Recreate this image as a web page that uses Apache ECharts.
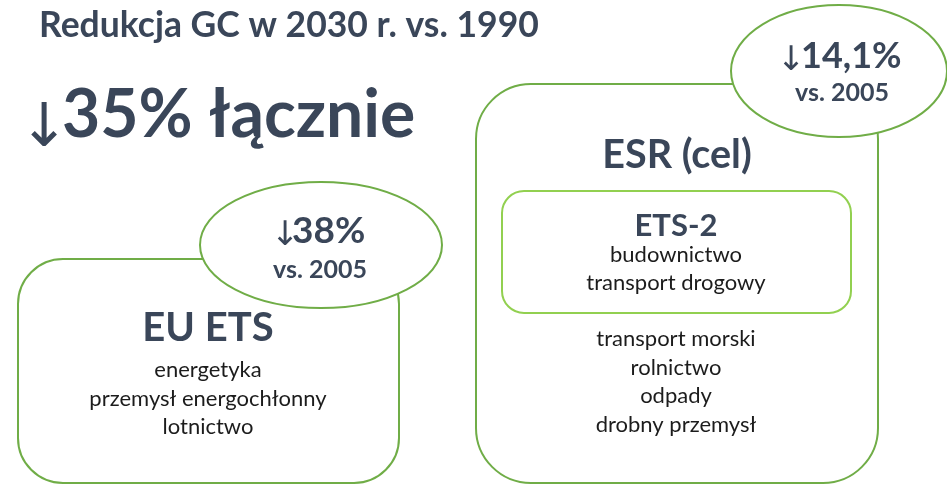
<!DOCTYPE html>
<html>
<head>
<meta charset="utf-8">
<script src="https://cdn.jsdelivr.net/npm/echarts@6/dist/echarts.min.js"></script>
<style>
  html, body { margin: 0; padding: 0; background: #fff; }
  #main { width: 947px; height: 484px; }
</style>
</head>
<body>
<div id="main"></div>
<script>
  // dane
  var titleText = 'Redukcja GC w 2030 r. vs. 1990'
  var totalLabel = ['35%', 'łącznie']
  var schemes = ['EU ETS', 'ESR (cel)', 'ETS-2']
  var cuts = ['38%', '14,1%']
  var baseYear = 'vs. 2005'
  var etsSectors = ['energetyka', 'przemysł energochłonny', 'lotnictwo']
  var ets2Sectors = ['budownictwo', 'transport drogowy']
  var esrSectors = ['transport morski', 'rolnictwo', 'odpady', 'drobny przemysł']

  var DARK = '#3a4659'
  var BODY = '#1c1c1c'
  var GREEN = '#70ad47'
  var LIGHT_GREEN = '#92d050'
  var FONT = 'Lato, "Noto Sans", sans-serif'
  var ARROW_FONT = '"DejaVu Sans", sans-serif'

  function txt(text, x, y, size, weight, color, align, family) {
    return {
      type: 'text',
      z: 10,
      style: {
        text: text,
        x: x,
        y: y,
        font: (weight || 'normal') + ' ' + size + 'px ' + (family || FONT),
        fill: color || BODY,
        textAlign: align || 'center',
        textVerticalAlign: 'middle'
      }
    }
  }

  // strzalka + wartosc redukcji
  function cutLabel(value, arrowX, numX, y, size) {
    return [
      txt('↓', arrowX, y + 5, 34, 'normal', DARK, 'center', ARROW_FONT),
      txt(value, numX, y, size, 'bold', DARK, 'left')
    ]
  }

  function lines(list, x, y0, step) {
    return list.map(function (t, i) {
      return txt(t, x, y0 + i * step, 22, 'normal', BODY)
    })
  }

  var elements = [
    txt(titleText, 39, 26, 35.5, 'bold', DARK, 'left'),
    txt('↓', 44, 130, 60, 'normal', DARK, 'center', ARROW_FONT),
    txt(totalLabel.join(' '), 62, 116, 66, 'bold', DARK, 'left'),
    // EU ETS
    {
      type: 'rect', z: 1,
      shape: { x: 18, y: 259, width: 381, height: 224, r: 45 },
      style: { fill: '#fff', stroke: GREEN, lineWidth: 2 }
    },
    {
      type: 'ellipse', z: 5,
      shape: { cx: 321, cy: 245, rx: 121, ry: 63 },
      style: { fill: '#fff', stroke: GREEN, lineWidth: 2 }
    }
  ].concat(cutLabel(cuts[0], 285, 292, 231, 37))
   .concat([
    txt(baseYear, 320, 270, 25, 'bold', DARK),
    txt(schemes[0], 208, 328, 40, 'bold', DARK)
  ]).concat(lines(etsSectors, 208, 370, 28.5))

  elements = elements.concat([
    // ESR
    {
      type: 'rect', z: 1,
      shape: { x: 476, y: 84, width: 402, height: 399, r: 55 },
      style: { fill: '#fff', stroke: GREEN, lineWidth: 2 }
    },
    {
      type: 'ellipse', z: 5,
      shape: { cx: 839, cy: 71, rx: 108, ry: 66 },
      style: { fill: '#fff', stroke: GREEN, lineWidth: 2 }
    }
  ]).concat(cutLabel(cuts[1], 791, 801, 56, 36))
    .concat([
    txt(baseYear, 842, 93, 25, 'bold', DARK),
    txt(schemes[1], 677, 155, 39.5, 'bold', DARK),
    {
      type: 'rect', z: 3,
      shape: { x: 502, y: 191, width: 349, height: 122, r: 22 },
      style: { fill: '#fff', stroke: LIGHT_GREEN, lineWidth: 2 }
    },
    txt(schemes[2], 676, 226, 31, 'bold', DARK)
  ]).concat(lines(ets2Sectors, 676, 255, 27.5))
    .concat(lines(esrSectors, 676, 339, 28.5))

  var myChart = echarts.init(document.getElementById('main'))
  myChart.setOption({
    backgroundColor: '#fff',
    animation: false,
    graphic: { elements: elements }
  })
</script>
</body>
</html>
